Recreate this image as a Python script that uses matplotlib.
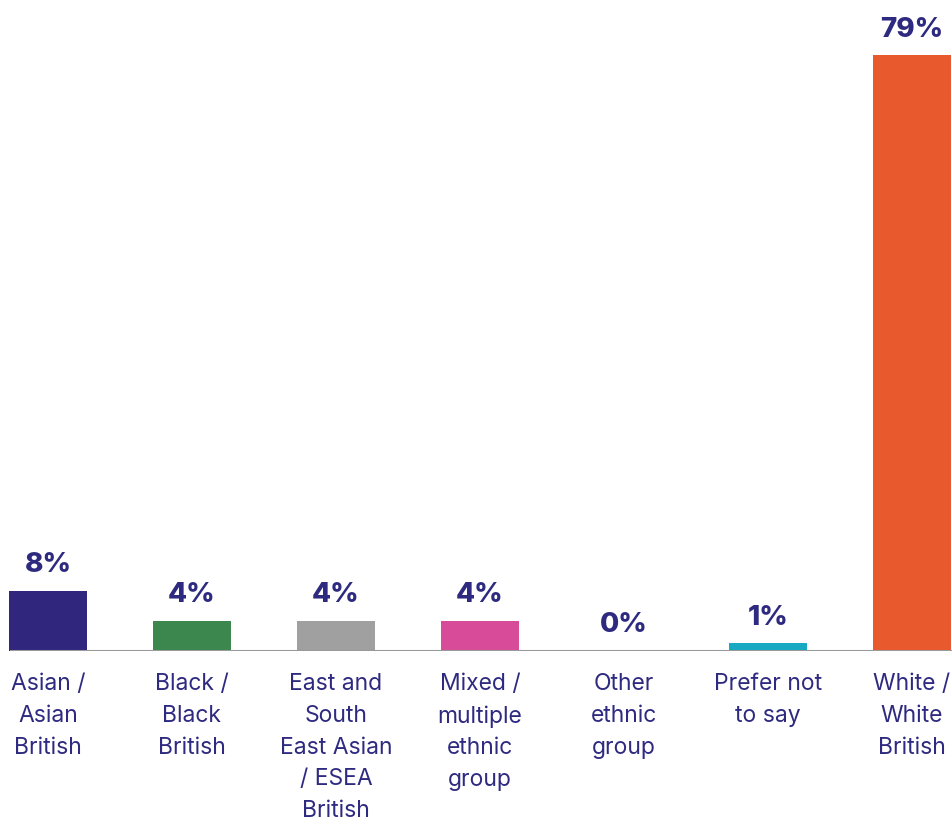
import matplotlib.pyplot as plt

plt.rcParams['font.family'] = ['Inter', 'DejaVu Sans']

categories = ["Asian /\nAsian\nBritish", "Black /\nBlack\nBritish",
              "East and\nSouth\nEast Asian\n/ ESEA\nBritish",
              "Mixed /\nmultiple\nethnic\ngroup", "Other\nethnic\ngroup",
              "Prefer not\nto say", "White /\nWhite\nBritish"]
values = [8, 4, 4, 4, 0, 1, 79]
colors = ["#30267e", "#3b874e", "#a0a0a0", "#d84b98", "#2e2a80", "#17a9c1", "#e8592d"]
text_color = "#2e2a80"

fig = plt.figure(figsize=(9.52, 8.24), dpi=100)
ax = fig.add_axes([0, 0.21, 1, 0.79])

x = range(len(values))
ax.bar(x, values, width=0.542, color=colors, zorder=2)

for xi, v in zip(x, values):
    ax.annotate(f"{v}%", (xi, v), xytext=(0, 9), textcoords="offset points",
                ha="center", va="bottom", fontsize=20, fontweight="heavy",
                color=text_color)

# grey baseline drawn over the bar bottoms
ax.axhline(0, xmin=11 / 952, xmax=1, color="#999999", lw=2.2, zorder=3)

ax.set_xlim(-0.333, 6.278)
ax.set_ylim(0, 86.3)
ax.set_xticks(list(x))
ax.set_xticklabels(categories, fontsize=16.5, color=text_color, linespacing=1.57)
ax.tick_params(axis="x", length=0, pad=16)
ax.set_yticks([])
for s in ax.spines.values():
    s.set_visible(False)

fig.savefig("out.png", dpi=100)
